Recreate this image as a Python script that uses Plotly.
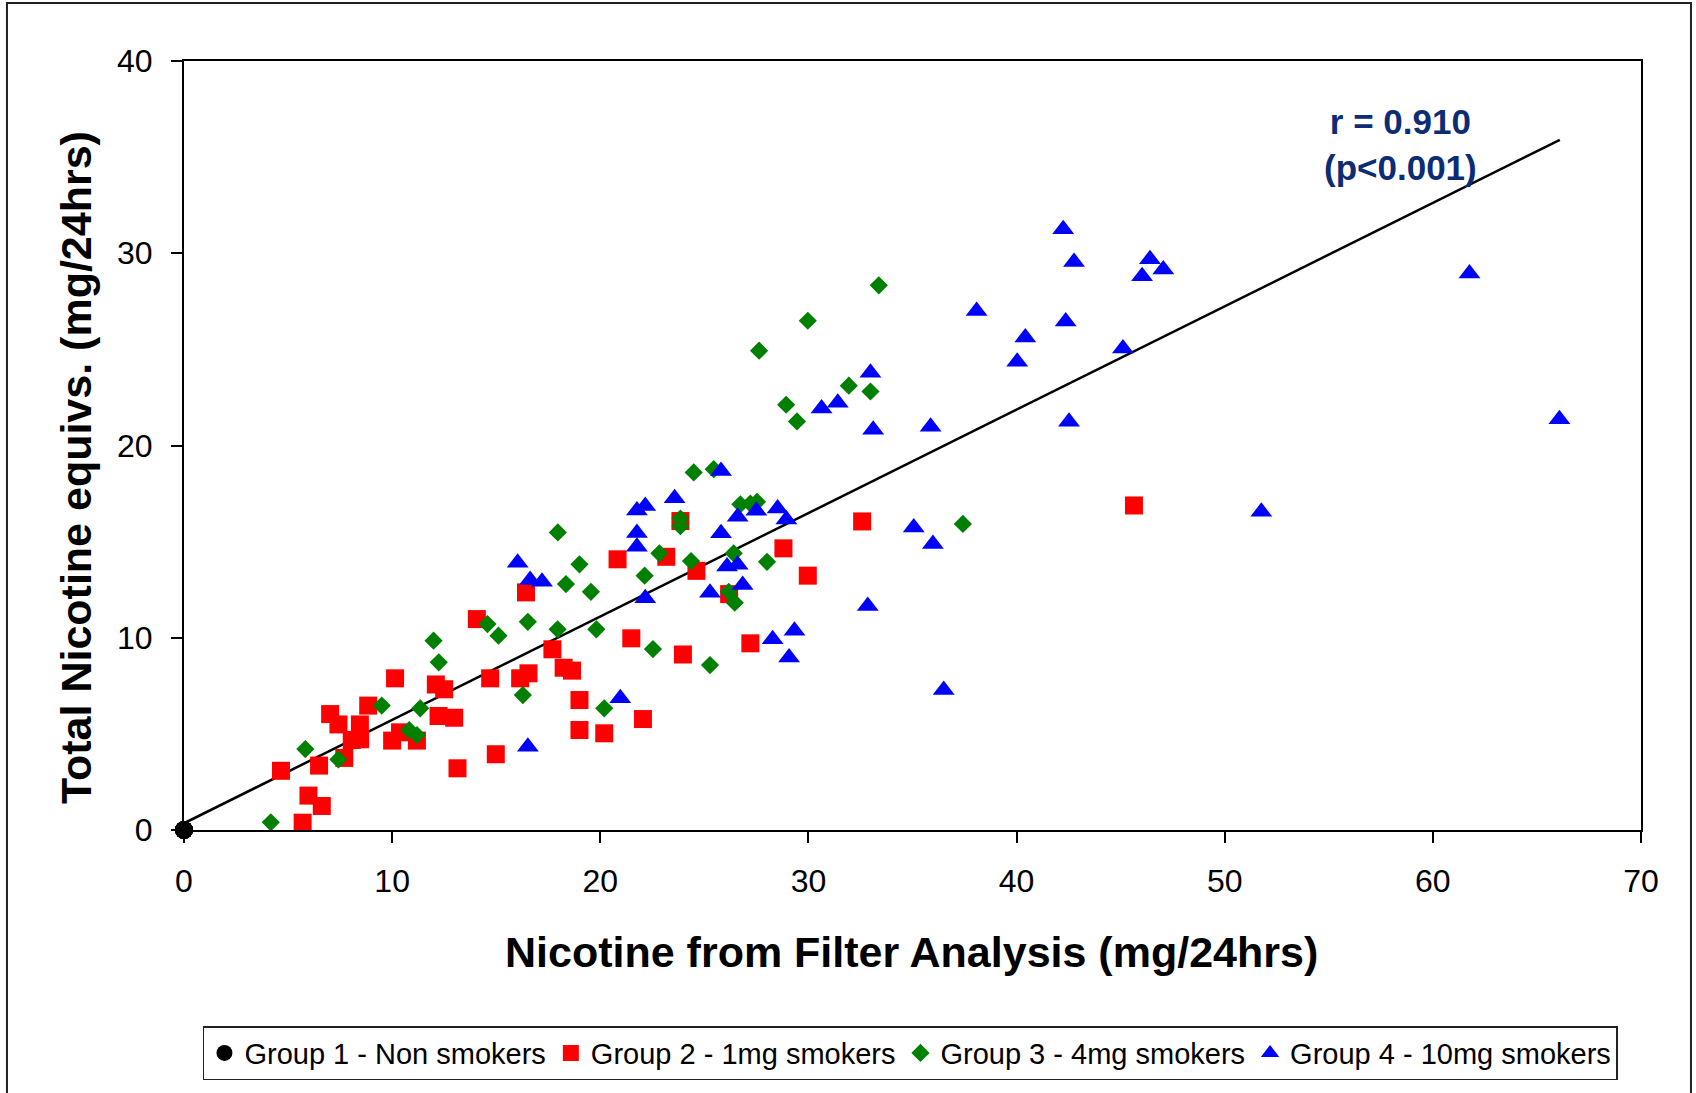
import plotly.graph_objects as go

# Nicotine from filter analysis (x) vs total nicotine equivalents (y), mg/24hrs
g1_x = [0, 0, 0, 0, 0, 0, 0, 0]
g1_y = [0, 0, 0, 0, 0, 0, 0, 0]

g2_x = [4.66, 5.98, 6.62, 5.70, 6.49, 7.02, 7.42, 8.85, 8.45, 8.06, 8.46, 7.70,
        10.14, 10.00, 10.38, 11.19, 12.10, 12.50, 12.23, 12.98, 13.14, 14.07,
        14.71, 14.98, 16.43, 16.15, 16.55, 17.70, 18.24, 18.64, 19.00, 19.00,
        20.19, 20.83, 21.49, 22.05, 23.17, 23.85, 24.62, 23.97, 26.19, 27.21,
        28.80, 29.97, 32.58, 45.64]
g2_y = [3.08, 1.79, 1.25, 0.38, 3.35, 6.03, 5.49, 6.47, 5.49, 4.68, 4.72, 3.75,
        7.89, 4.65, 5.08, 4.65, 7.57, 7.32, 5.93, 5.84, 3.21, 10.97,
        7.89, 3.94, 12.36, 7.89, 8.15, 9.40, 8.44, 8.29, 6.76, 5.20,
        5.03, 14.08, 9.97, 5.77, 14.21, 16.07, 13.48, 9.13, 12.27, 9.71,
        14.65, 13.23, 16.05, 16.88]

g3_x = [4.17, 5.83, 7.42, 9.50, 11.35, 10.82, 11.19, 11.99, 12.24, 14.58, 15.11,
        16.52, 16.28, 17.96, 19.00, 18.35, 19.55, 17.95, 19.81, 20.19, 22.13,
        22.53, 22.84, 23.85, 23.85, 24.49, 25.45, 24.36, 25.27, 26.41, 26.17,
        26.46, 26.73, 27.21, 27.53, 28.01, 29.45, 27.63, 29.97, 33.38, 28.93,
        31.94, 32.98, 37.42]
g3_y = [0.40, 4.21, 3.67, 6.47, 6.33, 5.20, 4.94, 9.85, 8.72, 10.71, 10.11,
        10.83, 7.02, 15.48, 13.82, 12.79, 12.39, 10.44, 10.44, 6.33, 13.23,
        9.41, 14.39, 16.20, 15.80, 18.60, 18.77, 13.99, 8.58, 14.39, 12.39,
        11.82, 16.94, 16.98, 17.07, 13.95, 21.25, 24.93, 26.49, 28.33, 22.12,
        23.11, 22.81, 15.92]

g4_x = [16.03, 16.63, 17.20, 16.52, 20.96, 21.76, 22.16, 21.76, 21.76, 22.16,
        23.57, 25.80, 25.80, 25.27, 26.09, 26.60, 26.84, 26.60, 27.50, 28.52,
        28.94, 28.28, 29.33, 29.07, 33.11, 35.87, 35.06, 35.98, 32.85, 36.50,
        38.08, 32.98, 30.63, 31.41, 42.24, 42.76, 46.41, 46.03, 47.05, 42.36,
        40.42, 40.03, 45.11, 42.52, 51.76, 61.76, 66.08]
g4_y = [13.90, 13.00, 12.91, 4.33, 6.85, 16.62, 16.85, 15.45, 14.73, 12.05,
        17.26, 18.68, 15.43, 12.34, 13.70, 13.80, 12.74, 16.29, 16.60, 16.72,
        16.15, 9.92, 10.36, 8.97, 20.82, 20.98, 15.74, 14.87, 11.65, 7.28,
        27.00, 23.78, 21.93, 22.22, 31.25, 29.55, 29.69, 28.81, 29.16, 26.45,
        25.62, 24.35, 25.05, 21.23, 16.55, 28.95, 21.36]

# Linear trendline through all groups (end points)
trend_x = [0, 66.1]
trend_y = [0.35, 35.9]

x_ticks = [0, 10, 20, 30, 40, 50, 60, 70]
y_ticks = [0, 10, 20, 30, 40]

FONT = "Liberation Sans, Arial, sans-serif"

fig = go.Figure()

fig.add_trace(go.Scatter(
    x=trend_x, y=trend_y, mode="lines",
    line=dict(color="black", width=2.5), showlegend=False, hoverinfo="skip"))

fig.add_trace(go.Scatter(
    x=g1_x, y=g1_y, mode="markers", name="Group 1 - Non smokers",
    cliponaxis=False,
    marker=dict(symbol="circle", size=18, color="black", line=dict(width=0))))
fig.add_trace(go.Scatter(
    x=g2_x, y=g2_y, mode="markers", name="Group 2 - 1mg smokers",
    marker=dict(symbol="square", size=18, color="#FF0000", line=dict(width=0))))
fig.add_trace(go.Scatter(
    x=g3_x, y=g3_y, mode="markers", name="Group 3 - 4mg smokers",
    marker=dict(symbol="diamond", size=14, color="#008000", line=dict(width=0))))
fig.add_trace(go.Scatter(
    x=g4_x, y=g4_y, mode="markers", name="Group 4 - 10mg smokers",
    marker=dict(symbol="triangle-up", size=19, color="#0000FF", line=dict(width=0))))

axis_common = dict(
    showgrid=False, zeroline=False, showline=True, linecolor="black", linewidth=2,
    mirror=True, ticks="outside", ticklen=11, tickwidth=1.5, tickcolor="black",
    tickfont=dict(family=FONT, size=32, color="black"),
)

fig.update_xaxes(range=[0, 70], tickvals=x_ticks, ticklabelstandoff=11, **axis_common)
fig.update_yaxes(range=[0, 40], tickvals=y_ticks, ticklabelstandoff=12, **axis_common)

fig.add_annotation(
    x=0.499, y=-0.1586, xref="paper", yref="paper", showarrow=False,
    text="Nicotine from Filter Analysis (mg/24hrs)",
    font=dict(family=FONT, size=43, color="black", weight="bold"),
    xanchor="center", yanchor="middle")
fig.add_annotation(
    x=-0.0741, y=0.4707, xref="paper", yref="paper", showarrow=False,
    text="Total Nicotine equivs. (mg/24hrs)", textangle=-90,
    font=dict(family=FONT, size=43, color="black", weight="bold"),
    xanchor="center", yanchor="middle")
fig.add_annotation(
    x=58.46, y=35.67, xref="x", yref="y", showarrow=False,
    text="r = 0.910<br>(p&lt;0.001)",
    font=dict(family=FONT, size=35, color="#0C2C74", weight="bold"),
    xanchor="center", yanchor="middle", align="center")

# Outer chart frame
fig.add_shape(type="rect", xref="paper", yref="paper",
              x0=-0.1215, x1=1.0343, y0=-0.345, y1=1.0754,
              line=dict(color="#222222", width=2), fillcolor="rgba(0,0,0,0)",
              layer="below")

fig.update_layout(
    width=1696, height=1093,
    margin=dict(l=184, r=55, t=61, b=263),
    paper_bgcolor="white", plot_bgcolor="white",
    showlegend=True,
    legend=dict(
        orientation="h", x=0.4986, xanchor="center", y=-0.255, yanchor="top",
        font=dict(family=FONT, size=29, color="black"),
        bgcolor="white", bordercolor="#222222", borderwidth=1.5,
        itemwidth=30, tracegroupgap=0,
    ),
)

fig.write_html("out.html")
